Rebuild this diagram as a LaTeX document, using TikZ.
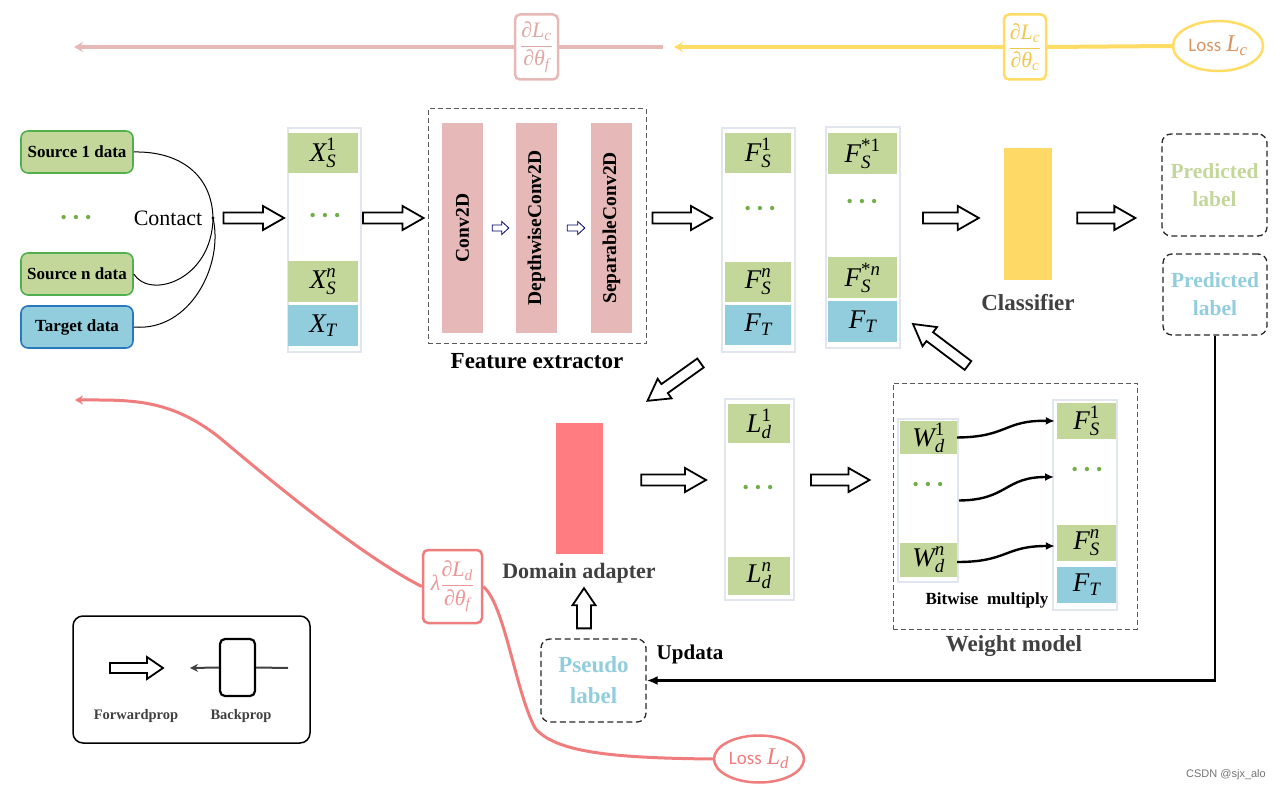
\documentclass[tikz,border=0pt]{standalone}
\usepackage{amsmath}
\usepackage{fontspec}
\setmainfont{Liberation Serif}
\newfontfamily\lossfont{Carlito}
\newfontfamily\wmkfont{Liberation Sans}
\usetikzlibrary{calc,arrows.meta,shapes.geometric}

\definecolor{cgreen}{RGB}{196,215,155}
\definecolor{cblue}{RGB}{146,205,221}
\definecolor{srcb}{RGB}{80,176,80}
\definecolor{tgtb}{RGB}{40,120,190}
\definecolor{pinkbar}{RGB}{230,184,183}
\definecolor{ybar}{RGB}{255,217,102}
\definecolor{dabar}{RGB}{255,124,128}
\definecolor{dotg}{RGB}{112,173,71}
\definecolor{pinkl}{RGB}{230,185,183}
\definecolor{pinktxt}{RGB}{222,168,166}
\definecolor{yell}{RGB}{255,220,100}
\definecolor{yeltxt}{RGB}{240,200,80}
\definecolor{losstxt}{RGB}{215,150,100}
\definecolor{redl}{RGB}{240,125,125}
\definecolor{redtxt}{RGB}{235,150,150}
\definecolor{dgray}{RGB}{64,64,64}
\definecolor{colb}{RGB}{225,229,238}

\newcommand{\gdots}{{\color{dotg}\fontsize{18}{18}\selectfont\textbullet\hspace{6pt}\textbullet\hspace{6pt}\textbullet}}
\newcommand{\tv}[1]{\text{\itshape #1}}
\newcommand{\mv}[3]{$\tv{#1}^{\text{#3}}_{\tv{#2}}$}

\newcommand{\fatarrowgen}[6][fat]{%
 \path[#1] let \p1=#5, \p2=#6, \n1={atan2(\y2-\y1,\x2-\x1)}, \n2={veclen(\x2-\x1,\y2-\y1)-#4} in
 ($(\p1)+({\n1+90}:#2pt)$) -- ($(\p1)+(\n1:\n2)+({\n1+90}:#2pt)$) -- ($(\p1)+(\n1:\n2)+({\n1+90}:#3pt)$) -- (\p2) -- ($(\p1)+(\n1:\n2)+({\n1-90}:#3pt)$) -- ($(\p1)+(\n1:\n2)+({\n1-90}:#2pt)$) -- ($(\p1)+({\n1-90}:#2pt)$) -- cycle;}
\newcommand{\fatarrow}[2]{\fatarrowgen{5.5}{12}{21}{#1}{#2}}

\tikzset{
 srcbox/.style={draw=srcb, fill=cgreen, line width=1.6pt, rounded corners=7pt, minimum width=112pt, minimum height=42pt, inner sep=0pt, font=\fontsize{17}{18}\selectfont\bfseries},
 colbox/.style={draw=colb, line width=2pt, fill=white, inner sep=0pt},
 cell/.style={inner sep=0pt, font=\fontsize{27}{29}\selectfont},
 gcell/.style={cell, fill=cgreen},
 bcell/.style={cell, fill=cblue},
 bar/.style={inner sep=0pt},
 bartxt/.style={rotate=90, font=\fontsize{19.5}{21}\selectfont\bfseries},
 dashbox/.style={draw=black!65, dash pattern=on 5pt off 3pt, line width=1pt, inner sep=0pt},
 dashround/.style={draw=black!85, dash pattern=on 6pt off 3.5pt, line width=1.3pt, rounded corners=9pt, inner sep=0pt, align=center, font=\fontsize{21.5}{28}\selectfont\bfseries},
 big/.style={font=\fontsize{23}{26}\selectfont\bfseries, text=dgray},
 grad/.style={rounded corners=5pt, line width=2.5pt, fill=white, inner sep=1pt, font=\fontsize{22}{24}\selectfont},
 lossell/.style={ellipse, line width=2.5pt, fill=white, inner sep=0pt},
 fat/.style={draw=black, line width=1.8pt, fill=white, line join=miter},
 smallfat/.style={draw=black!60!blue, line width=0.8pt, fill=white},
 curvearr/.style={line width=2.4pt, -{Latex[length=9pt,width=8pt]}},
 legtxt/.style={font=\fontsize{14.5}{16}\selectfont\bfseries, text=dgray},
}

\begin{document}
\begin{tikzpicture}[x=1pt,y=-1pt]
\useasboundingbox (0,0) rectangle (1282,791);

% ---------- top gradient lines ----------
\node[grad, draw=pinkl, text=pinktxt, minimum width=43pt, minimum height=65pt] (gf) at (536.5,47) {$\dfrac{\tv{∂L}_{\tv{c}}}{\tv{∂θ}_{\tv{f}}}$};
\node[grad, draw=yell, text=yeltxt, minimum width=42pt, minimum height=65pt] (gc) at (1025,47) {$\dfrac{\tv{∂L}_{\tv{c}}}{\tv{∂θ}_{\tv{c}}}$};
\node[lossell, draw=yell, text=losstxt, minimum width=90pt, minimum height=50pt] (lossc) at (1218,46) {{\lossfont\fontsize{19}{20}\selectfont Loss}\hspace{5pt}{\fontsize{24}{24}\selectfont$\tv{L}_{\tv{c}}$}};
\coordinate (ptip) at (74,47);
\coordinate (pstart) at (663,47);
\coordinate (ytip) at (674,47);
\draw[line width=4pt, pinkl] (pstart) -- (gf.east);
\draw[line width=4pt, pinkl, -{Stealth[length=9pt,width=10pt]}] (gf.west) -- (ptip);
\draw[line width=4pt, yell] (lossc.west) -- (gc.east);
\draw[line width=4pt, yell, -{Stealth[length=9pt,width=10pt]}] (gc.west) -- (ytip);

% ---------- sources ----------
\node[srcbox] (src1) at (77,152) {Source 1 data};
\node (sdots) at (76,219) {\gdots};
\node[srcbox] (srcn) at (77,274) {Source n data};
\node[srcbox, draw=tgtb, fill=cblue] (tgt) at (77,327) {Target data};
\node[font=\fontsize{22}{24}\selectfont] (contact) at (168,218) {Contact};
\coordinate (j) at (213,218);
\draw[line width=1pt] (src1.east) .. controls (180,151) and (212,175) .. (j);
\draw[line width=1pt] (srcn.east) .. controls (150,300) and (212,280) .. (j);
\draw[line width=1pt] (tgt.east) .. controls (190,332) and (224,265) .. (j);
\fill (j) circle (1.6pt);

% ---------- X column ----------
\node[colbox, minimum width=73pt, minimum height=224pt] (xcol) at (324,240) {};
\node[gcell, minimum width=70pt, minimum height=40pt] (xs1) at (323,153) {\mv{X}{S}{1}};
\node (xdots) at (325,217) {\gdots};
\node[gcell, minimum width=70pt, minimum height=41pt] (xsn) at (323,281.5) {\mv{X}{S}{\itshape n}};
\node[bcell, minimum width=70pt, minimum height=41pt] (xt) at (323,325.5) {$\tv{X}_{\tv{T}}$};

\fatarrow{($(xcol.west |- j)+(-63,0)$)}{($(xcol.west |- j)+(-2.5,0)$)}

% ---------- feature extractor ----------
\node[dashbox, minimum width=218pt, minimum height=235pt] (fe) at (537,226.5) {};
\node[bar, fill=pinkbar, minimum width=41pt, minimum height=210pt] (conv) at (462.5,228) {};
\node[bar, fill=pinkbar, minimum width=41pt, minimum height=210pt] (dw) at (536.5,228) {};
\node[bar, fill=pinkbar, minimum width=41pt, minimum height=210pt] (sep) at (611.5,228) {};
\node[bartxt] (convt) at (conv) {Conv2D};
\node[bartxt] (dwt) at (dw) {DepthwiseConv2D};
\node[bartxt] (sept) at (sep) {SeparableConv2D};
\fatarrowgen[smallfat]{3}{6.5}{7}{([xshift=9pt]conv.east)}{([xshift=-7pt]dw.west)}
\fatarrowgen[smallfat]{3}{6.5}{7}{([xshift=10pt]dw.east)}{([xshift=-6pt]sep.west)}
\node[big, text=black] (felab) at (537,361) {Feature extractor};

\fatarrow{($(xcol.east |- j)+(1.5,0)$)}{($(fe.west |- j)+(-4,0)$)}

% ---------- F columns ----------
\node[colbox, minimum width=73pt, minimum height=224pt] (fcol) at (758.5,240) {};
\node[gcell, minimum width=66pt, minimum height=40pt] (fs1) at (758,153) {\mv{F}{S}{1}};
\node (fdots) at (760,210) {\gdots};
\node[gcell, minimum width=66pt, minimum height=40pt] (fsn) at (758,282) {\mv{F}{S}{\itshape n}};
\node[bcell, minimum width=66pt, minimum height=40pt] (ft) at (758,325) {$\tv{F}_{\tv{T}}$};

\node[colbox, minimum width=74pt, minimum height=221pt] (fscol) at (863,237.5) {};
\node[gcell, minimum width=69pt, minimum height=41pt] (fss1) at (862.5,153.5) {\mv{F}{S}{*1}};
\node (fsdots) at (862,203) {\gdots};
\node[gcell, minimum width=69pt, minimum height=41pt] (fssn) at (862.5,277.5) {\mv{F}{S}{*\itshape n}};
\node[bcell, minimum width=69pt, minimum height=41pt] (fst) at (862.5,321.5) {$\tv{F}_{\tv{T}}$};

\fatarrow{($(fe.east |- j)+(6,0)$)}{($(fcol.west |- j)+(-9,0)$)}

% ---------- classifier ----------
\node[bar, fill=ybar, minimum width=48pt, minimum height=132pt] (cls) at (1028,214) {};
\node[big] (clslab) at (1028,303) {Classifier};
\fatarrow{($(fscol.east |- j)+(22,0)$)}{($(cls.west |- j)+(-25,0)$)}
\node[dashround, text=cgreen, minimum width=105pt, minimum height=102pt] (pl1) at (1214.5,185) {Predicted\\label};
\node[dashround, text=cblue, minimum width=104pt, minimum height=81pt] (pl2) at (1215,294.5) {Predicted\\label};
\fatarrow{($(cls.east |- j)+(25,0)$)}{($(pl1.west |- j)+(-26,0)$)}

% ---------- domain adapter ----------
\node[bar, fill=dabar, minimum width=47pt, minimum height=131pt] (da) at (579.5,488.5) {};
\node[big, font=\fontsize{22}{26}\selectfont\bfseries] (dalab) at (579,573) {Domain adapter};
\fatarrow{([shift={(-58,10)}]fcol.south)}{([shift={(68,-22)}]da.north)}

% ---------- L column ----------
\coordinate (brow) at (0,480);
\node[colbox, minimum width=69pt, minimum height=201pt] (lcol) at (759.5,499.5) {};
\node[gcell, minimum width=62pt, minimum height=39pt] (ld1) at (759,423.5) {\mv{L}{d}{1}};
\node (ldots) at (758,489) {\gdots};
\node[gcell, minimum width=62pt, minimum height=38pt] (ldn) at (759,576) {\mv{L}{d}{\itshape n}};
\fatarrow{($(da.east |- brow)+(38,0)$)}{($(lcol.west |- brow)+(-18,0)$)}

% ---------- weight model ----------
\node[dashbox, minimum width=244pt, minimum height=246pt] (wbox) at (1015,506) {};
\node[big] (wlab) at (1014,646) {Weight model};
\fatarrow{($(lcol.east |- brow)+(16,0)$)}{($(wbox.west |- brow)+(-23,0)$)}

\node[colbox, minimum width=60pt, minimum height=163pt] (wcol) at (928,500.5) {};
\node[gcell, minimum width=57pt, minimum height=33pt] (wd1) at (928.5,437.5) {\mv{W}{d}{1}};
\node (wdots) at (928,486) {\gdots};
\node[gcell, minimum width=57pt, minimum height=34pt] (wdn) at (928.5,560) {\mv{W}{d}{\itshape n}};

\node[colbox, minimum width=64pt, minimum height=210pt] (fcol2) at (1085,505) {};
\node[gcell, minimum width=59pt, minimum height=36pt] (f2s1) at (1086.5,421) {\mv{F}{S}{1}};
\node (f2dots) at (1087,471) {\gdots};
\node[gcell, minimum width=59pt, minimum height=36pt] (f2sn) at (1086.5,543) {\mv{F}{S}{\itshape n}};
\node[bcell, minimum width=59pt, minimum height=36pt] (f2t) at (1086.5,585) {$\tv{F}_{\tv{T}}$};

\draw[curvearr] (wd1.east) .. controls (1008,437) and (1004,420) .. ([xshift=-2pt]f2s1.west);
\draw[curvearr] (wcol.east) .. controls (1008,500) and (1004,477) .. ([shift={(2pt,28pt)}]fcol2.west);
\draw[curvearr] ([yshift=-2pt]wdn.east) .. controls (1008,562) and (1004,546) .. ([shift={(-2pt,-3pt)}]f2sn.west);
\node[font=\fontsize{17}{18}\selectfont\bfseries] (bitw) at (987,600) {Bitwise\ \ multiply};

\fatarrow{([shift={(-47,-17)}]wbox.north)}{([shift={(12,-25)}]fscol.south east)}

% ---------- pseudo label ----------
\node[dashround, text=cblue, minimum width=105pt, minimum height=83pt, font=\fontsize{23}{31}\selectfont\bfseries] (pseudo) at (593.5,680.5) {Pseudo\\label};
\fatarrowgen{7}{11.5}{17}{([shift={(-9.5,-10)}]pseudo.north)}{([shift={(4.5,34)}]da.south)}
\node[font=\fontsize{21}{24}\selectfont\bfseries] (upd) at (690,654) {Updata};
\draw[line width=2.5pt, -{Latex[length=11pt,width=9pt]}] (pl2.south) |- (pseudo.east);

% ---------- domain loss ----------
\node[grad, draw=redl, text=redtxt, minimum width=59pt, minimum height=73pt] (gd) at (452.5,586.5) {$\tv{λ}\dfrac{\tv{∂L}_{\tv{d}}}{\tv{∂θ}_{\tv{f}}}$};
\node[lossell, draw=redl, text=redl, minimum width=90pt, minimum height=47pt] (lossd) at (759,759) {{\lossfont\fontsize{19}{20}\selectfont Loss}\hspace{5pt}{\fontsize{24}{24}\selectfont$\tv{L}_{\tv{d}}$}};
\coordinate (rtip) at (75,400);
\draw[redl, line width=3pt, -{Stealth[length=8pt,width=9pt]}] (gd.west) .. controls (360,555) and (270,480) .. (220,438) .. controls (170,398) and (130,400) .. (rtip);
\draw[redl, line width=3pt] (gd.east) .. controls (505,605) and (515,690) .. (535,728) .. controls (555,752) and (610,758) .. (lossd.west);

% ---------- legend ----------
\node[draw=black, line width=1.5pt, rounded corners=10pt, minimum width=237pt, minimum height=127pt] (leg) at (191.5,679.5) {};
\coordinate (lf1) at (110,668);
\coordinate (lf2) at (163,668);
\fatarrowgen{5}{11}{16}{(lf1)}{(lf2)}
\node[draw=black, line width=2.2pt, rounded corners=5pt, minimum width=35pt, minimum height=57pt] (bp) at (237.5,667.5) {};
\coordinate (bpr) at (288,668);
\coordinate (bpl) at (190,668);
\draw[dgray, line width=2pt] (bpr) -- (bp.east);
\draw[dgray, line width=2pt, -{Stealth[length=8pt,width=8pt]}] (bp.west) -- (bpl);
\node[legtxt] (fwl) at (136,716) {Forwardprop};
\node[legtxt] (bpll) at (241,716) {Backprop};

\node[font=\wmkfont\fontsize{11}{12}\selectfont, text=black!55] (csdn) at (1226,775) {CSDN @sjx\_alo};
\end{tikzpicture}
\end{document}
